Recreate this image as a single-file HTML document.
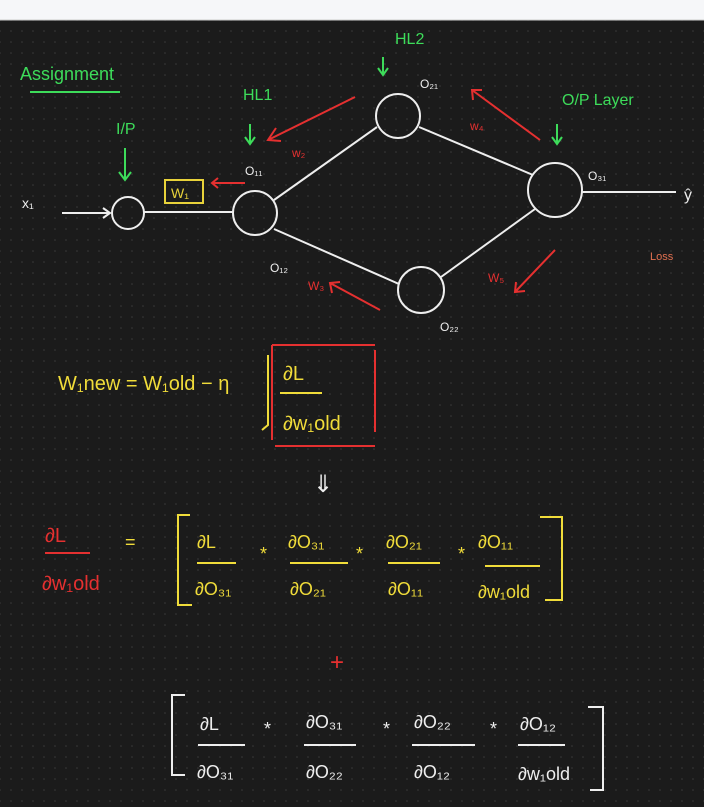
<!DOCTYPE html>
<html><head><meta charset="utf-8"><style>
html,body{margin:0;padding:0;width:704px;height:807px;overflow:hidden;background:#1b1b1b}
svg{display:block}
text{font-family:"Liberation Sans",sans-serif}
</style></head><body>
<svg width="704" height="807" viewBox="0 0 704 807" xmlns="http://www.w3.org/2000/svg">
<defs>
<pattern id="d" width="11" height="11" patternUnits="userSpaceOnUse" x="10" y="8"><circle cx="1" cy="1" r="0.8" fill="#3a3a3a"/></pattern>
</defs>
<rect width="704" height="807" fill="#1b1b1b"/>
<rect y="20" width="704" height="787" fill="url(#d)"/>
<rect width="704" height="20" fill="#f6f7f9"/>
<line x1="0" y1="20" x2="704" y2="20" stroke="#ccc"/>

<g fill="#3ddc5a" font-size="16">
<text x="20" y="80" font-size="18">Assignment</text>
<text x="116" y="134">I/P</text>
<text x="243" y="100">HL1</text>
<text x="395" y="44">HL2</text>
<text x="562" y="105">O/P Layer</text>
</g>
<g stroke="#3ddc5a" stroke-width="2" fill="none">
<line x1="30" y1="92" x2="120" y2="92"/>
<path d="M125 148 V180 M119 172 L125 180 L131 172"/>
<path d="M250 124 V144 M245 137 L250 144 L255 137"/>
<path d="M383 57 V75 M378 68 L383 75 L388 68"/>
<path d="M557 124 V144 M552 137 L557 144 L562 137"/>
</g>

<g stroke="#eee" stroke-width="2" fill="none">
<path d="M62 213 H110 M103 208 L110 213 L103 218"/>
<circle cx="128" cy="213" r="16"/>
<line x1="144" y1="212" x2="233" y2="212"/>
<circle cx="255" cy="213" r="22"/>
<line x1="274" y1="200" x2="377" y2="127"/>
<line x1="274" y1="229" x2="399" y2="284"/>
<circle cx="398" cy="116" r="22"/>
<circle cx="421" cy="290" r="23"/>
<circle cx="555" cy="190" r="27"/>
<line x1="419" y1="127" x2="533" y2="175"/>
<line x1="441" y1="277" x2="535" y2="209"/>
<line x1="582" y1="192" x2="676" y2="192"/>
</g>
<g fill="#eee" font-size="14">
<text x="22" y="208">x₁</text>
<text x="245" y="175" font-size="12">O₁₁</text>
<text x="420" y="88" font-size="12">O₂₁</text>
<text x="588" y="180" font-size="12">O₃₁</text>
<text x="270" y="272" font-size="12">O₁₂</text>
<text x="440" y="331" font-size="12">O₂₂</text>
<text x="684" y="200" font-size="16">ŷ</text>
</g>
<text x="650" y="260" fill="#e07050" font-size="11">Loss</text>

<g stroke="#e53030" stroke-width="2" fill="none">
<rect x="165" y="180" width="38" height="23" stroke="#e8d23a"/>
<path d="M245 183 H212 M218 178 L212 183 L218 188"/>
<path d="M355 97 L268 140 M276 128 L268 140 L281 141"/>
<path d="M540 140 L472 90 M473 100 L472 90 L482 90"/>
<path d="M380 310 L330 283 M332 293 L330 283 L340 282"/>
<path d="M555 250 L515 292 M516 282 L515 292 L525 291"/>
</g>
<g fill="#e53030" font-size="12">
<text x="292" y="157">w₂</text>
<text x="470" y="130">w₄</text>
<text x="308" y="290">W₃</text>
<text x="488" y="282">W₅</text>
</g>
<text x="171" y="198" fill="#e8d23a" font-size="14">W₁</text>

<!-- update rule -->
<g fill="#f0dc3a" font-size="20">
<text x="58" y="390">W₁new = W₁old − η</text>
<text x="283" y="380">∂L</text>
<text x="283" y="430">∂w₁old</text>
</g>
<path d="M268 355 V425 L262 430" stroke="#f0dc3a" stroke-width="2" fill="none"/>
<line x1="280" y1="393" x2="322" y2="393" stroke="#f0dc3a" stroke-width="2"/>
<g stroke="#e53030" stroke-width="2" fill="none">
<line x1="272" y1="345" x2="375" y2="345"/>
<line x1="272" y1="345" x2="272" y2="440"/>
<line x1="375" y1="350" x2="375" y2="432"/>
<line x1="275" y1="446" x2="375" y2="446"/>
</g>
<text x="313" y="492" fill="#eee" font-size="24">⇓</text>

<!-- row 1 -->
<g fill="#e53030" font-size="20">
<text x="45" y="542">∂L</text>
<text x="42" y="590">∂w₁old</text>
</g>
<line x1="45" y1="553" x2="90" y2="553" stroke="#e53030" stroke-width="2"/>
<g fill="#f0dc3a" font-size="18">
<text x="125" y="548">=</text>
<text x="197" y="548">∂L</text><text x="195" y="595">∂O₃₁</text>
<text x="260" y="560">*</text>
<text x="288" y="548">∂O₃₁</text><text x="290" y="595">∂O₂₁</text>
<text x="356" y="560">*</text>
<text x="386" y="548">∂O₂₁</text><text x="388" y="595">∂O₁₁</text>
<text x="458" y="560">*</text>
<text x="478" y="548">∂O₁₁</text><text x="478" y="598">∂w₁old</text>
</g>
<g stroke="#f0dc3a" stroke-width="2" fill="none">
<line x1="197" y1="563" x2="236" y2="563"/>
<line x1="290" y1="563" x2="348" y2="563"/>
<line x1="388" y1="563" x2="440" y2="563"/>
<line x1="485" y1="566" x2="540" y2="566"/>
<path d="M190 515 H178 V605 H192"/>
<path d="M540 517 H562 V600 H545"/>
</g>
<text x="330" y="670" fill="#e53030" font-size="24">+</text>

<!-- row 2 -->
<g fill="#eee" font-size="18">
<text x="200" y="730">∂L</text><text x="197" y="778">∂O₃₁</text>
<text x="264" y="735">*</text>
<text x="306" y="728">∂O₃₁</text><text x="306" y="778">∂O₂₂</text>
<text x="383" y="735">*</text>
<text x="414" y="728">∂O₂₂</text><text x="414" y="778">∂O₁₂</text>
<text x="490" y="735">*</text>
<text x="520" y="730">∂O₁₂</text><text x="518" y="780">∂w₁old</text>
</g>
<g stroke="#eee" stroke-width="2" fill="none">
<line x1="198" y1="745" x2="245" y2="745"/>
<line x1="304" y1="745" x2="356" y2="745"/>
<line x1="412" y1="745" x2="475" y2="745"/>
<line x1="518" y1="745" x2="565" y2="745"/>
<path d="M185 695 H172 V775 H185"/>
<path d="M588 707 H603 V790 H590"/>
</g>
</svg>
</body></html>
